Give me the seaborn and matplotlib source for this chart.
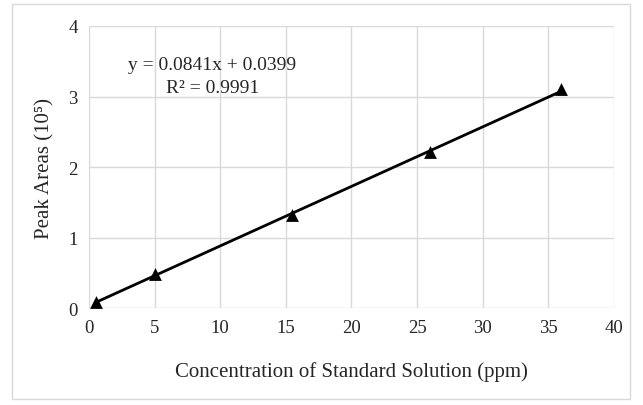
import matplotlib
matplotlib.use("Agg")
import matplotlib.pyplot as plt
import seaborn as sns
import pandas as pd
from matplotlib.patches import Rectangle

conc = [0.5, 5, 15.5, 26, 36]
area = [0.08, 0.48, 1.32, 2.21, 3.10]
x_ticks = [0, 5, 10, 15, 20, 25, 30, 35, 40]
y_ticks = [0, 1, 2, 3, 4]
eq_text = "y = 0.0841x + 0.0399"
r2_text = "R² = 0.9991"

sns.set_style("white")
plt.rcParams['font.family'] = ['Liberation Serif', 'DejaVu Serif']

df = pd.DataFrame({"conc": conc, "area": area})

fig = plt.figure(figsize=(6.43, 4.06), dpi=100)
ax = fig.add_axes([0.1384, 0.2389, 0.8165, 0.6946])

sns.regplot(data=df, x="conc", y="area", ax=ax, ci=None,
            marker="^", color="black",
            scatter_kws=dict(s=85, zorder=3, linewidths=0, alpha=1),
            line_kws=dict(lw=2, zorder=2))

ax.set_xlim(0, 40)
ax.set_ylim(0, 4)
ax.set_xticks(x_ticks)
ax.set_yticks(y_ticks)
ax.grid(True, color="#d9d9d9", lw=1)
ax.set_axisbelow(True)
for s in ax.spines.values():
    s.set_visible(False)
ax.tick_params(axis="both", length=0, labelsize=13.5, pad=8)
ax.set_xlabel("Concentration of Standard Solution (ppm)", fontsize=15, labelpad=18)
ax.set_ylabel("Peak Areas (10⁵)", fontsize=15, labelpad=10)

ax.text(9.4, 3.46, eq_text, ha="center", va="center", fontsize=14)
ax.text(9.4, 3.13, r2_text, ha="center", va="center", fontsize=14)

fig.patches.append(Rectangle((12/643, 1-400/406), 618/643, 395/406,
                             transform=fig.transFigure, fill=False,
                             edgecolor="#d9d9d9", lw=1))

fig.savefig("out.png", dpi=100)
